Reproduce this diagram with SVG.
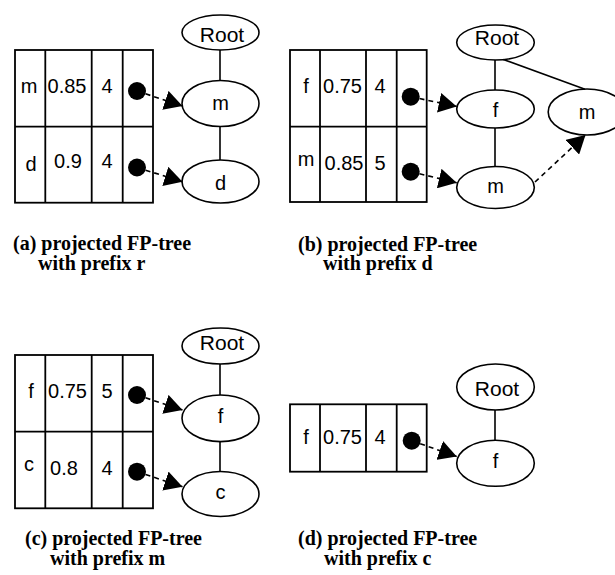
<svg xmlns="http://www.w3.org/2000/svg" width="615" height="575" viewBox="0 0 615 575">
<style>
.tb{fill:#fff;stroke:#000;stroke-width:1.8}
.cl{stroke:#000;stroke-width:1.8}
.t{font-family:"Liberation Sans",Arial,sans-serif;font-size:20px;fill:#000;text-anchor:middle}
.r{font-size:21px}
.nd{fill:#fff;stroke:#000;stroke-width:1.6}
.ed{stroke:#000;stroke-width:1.6;fill:none}
.da{stroke:#000;stroke-width:1.6;fill:none;stroke-dasharray:5 4;marker-end:url(#ah)}
.dot{fill:#000}
.cap{font-family:"Liberation Serif","Times New Roman",serif;font-weight:bold;font-size:20px;fill:#000}
</style>
<defs>
<marker id="ah" viewBox="0 0 18 20" refX="18" refY="10" markerWidth="18" markerHeight="20" markerUnits="userSpaceOnUse" orient="auto">
<path d="M0,0 L18,10 L0,20 z" fill="#000"/>
</marker>
</defs>

<!-- Panel (a) -->
<g id="table-a">
<rect class="tb" x="15" y="50" width="138" height="152.7"/>
<line class="cl" x1="15" y1="126.7" x2="153" y2="126.7"/>
<line class="cl" x1="45.3" y1="50" x2="45.3" y2="202.7"/>
<line class="cl" x1="91.7" y1="50" x2="91.7" y2="202.7"/>
<line class="cl" x1="122.7" y1="50" x2="122.7" y2="202.7"/>
<text class="t" x="29" y="93">m</text><text class="t" x="67" y="93">0.85</text><text class="t" x="107" y="93">4</text>
<text class="t" x="31" y="171">d</text><text class="t" x="68" y="168">0.9</text><text class="t" x="107" y="168">4</text>
<circle class="dot" cx="137" cy="91" r="9"/>
<circle class="dot" cx="137" cy="167.5" r="9"/>
</g>
<g id="a-root"><ellipse class="nd" cx="220.5" cy="32.5" rx="38.5" ry="17.5"/><text class="t r" x="222" y="41.5">Root</text></g>
<g id="a-m"><ellipse class="nd" cx="220.5" cy="103.5" rx="38.5" ry="23"/><text class="t" x="220.5" y="110">m</text></g>
<g id="a-d"><ellipse class="nd" cx="220.5" cy="181.5" rx="38.5" ry="21.5"/><text class="t" x="220.5" y="190">d</text></g>
<text class="cap" x="13" y="250">(a) projected FP-tree</text>
<text class="cap" x="38" y="270">with prefix r</text>

<!-- Panel (b) -->
<g id="table-b">
<rect class="tb" x="290" y="50" width="136.7" height="152"/>
<line class="cl" x1="290" y1="126.7" x2="426.7" y2="126.7"/>
<line class="cl" x1="320" y1="50" x2="320" y2="202"/>
<line class="cl" x1="366" y1="50" x2="366" y2="202"/>
<line class="cl" x1="396.7" y1="50" x2="396.7" y2="202"/>
<text class="t" x="306" y="93">f</text><text class="t" x="342.5" y="93">0.75</text><text class="t" x="380" y="93">4</text>
<text class="t" x="306" y="166">m</text><text class="t" x="344" y="170">0.85</text><text class="t" x="380" y="170">5</text>
<circle class="dot" cx="410.7" cy="96.7" r="9"/>
<circle class="dot" cx="410.7" cy="171.7" r="9"/>
</g>
<g id="b-root"><ellipse class="nd" cx="495.5" cy="42.5" rx="38.8" ry="17.5"/><text class="t r" x="497" y="45">Root</text></g>
<g id="b-f"><ellipse class="nd" cx="495.5" cy="109" rx="38.8" ry="19"/><text class="t" x="495.5" y="117">f</text></g>
<g id="b-m"><ellipse class="nd" cx="495.5" cy="187.5" rx="38.8" ry="21"/><text class="t" x="495.5" y="193">m</text></g>
<g id="b-m2"><ellipse class="nd" cx="587" cy="112" rx="38.8" ry="23"/><text class="t" x="587" y="118.5">m</text></g>
<text class="cap" x="298" y="251">(b) projected FP-tree</text>
<text class="cap" x="323" y="270">with prefix d</text>

<!-- Panel (c) -->
<g id="table-c">
<rect class="tb" x="15" y="355" width="138" height="153.3"/>
<line class="cl" x1="15" y1="431.7" x2="153" y2="431.7"/>
<line class="cl" x1="45.3" y1="355" x2="45.3" y2="508.3"/>
<line class="cl" x1="91.7" y1="355" x2="91.7" y2="508.3"/>
<line class="cl" x1="122.7" y1="355" x2="122.7" y2="508.3"/>
<text class="t" x="31" y="398">f</text><text class="t" x="67.5" y="398">0.75</text><text class="t" x="107" y="398">5</text>
<text class="t" x="29" y="471">c</text><text class="t" x="64" y="475">0.8</text><text class="t" x="107" y="475">4</text>
<circle class="dot" cx="137" cy="395" r="9"/>
<circle class="dot" cx="137" cy="471.7" r="9"/>
</g>
<g id="c-root"><ellipse class="nd" cx="220.5" cy="346" rx="38.5" ry="18"/><text class="t r" x="222" y="350">Root</text></g>
<g id="c-f"><ellipse class="nd" cx="220.5" cy="418.3" rx="38.5" ry="23.3"/><text class="t" x="220.5" y="423.3">f</text></g>
<g id="c-c"><ellipse class="nd" cx="220.5" cy="494" rx="38.5" ry="22.5"/><text class="t" x="220.5" y="499.3">c</text></g>
<text class="cap" x="25" y="545">(c) projected FP-tree</text>
<text class="cap" x="50" y="565">with prefix m</text>

<!-- Panel (d) -->
<g id="table-d">
<rect class="tb" x="290" y="404.3" width="136.7" height="67.4"/>
<line class="cl" x1="320" y1="404.3" x2="320" y2="471.7"/>
<line class="cl" x1="366" y1="404.3" x2="366" y2="471.7"/>
<line class="cl" x1="396.7" y1="404.3" x2="396.7" y2="471.7"/>
<text class="t" x="306" y="444">f</text><text class="t" x="342.5" y="444">0.75</text><text class="t" x="380" y="444">4</text>
<circle class="dot" cx="411.7" cy="440.7" r="9"/>
</g>
<g id="d-root"><ellipse class="nd" cx="495.5" cy="387" rx="38.8" ry="23"/><text class="t r" x="497" y="396">Root</text></g>
<g id="d-f"><ellipse class="nd" cx="495.5" cy="463.3" rx="38.8" ry="23"/><text class="t" x="495.5" y="468.3">f</text></g>
<text class="cap" x="298" y="545">(d) projected FP-tree</text>
<text class="cap" x="324" y="565">with prefix c</text>

<g id="connectors">
<line class="ed" x1="220" y1="50" x2="220" y2="80.5"/>
<line class="ed" x1="220" y1="126.5" x2="220" y2="160"/>
<path class="da" d="M137,91 L182.5,106"/>
<path class="da" d="M137,167.5 L182.5,181.7"/>

<line class="ed" x1="495" y1="60" x2="495" y2="90"/>
<line class="ed" x1="495" y1="128" x2="495" y2="166.5"/>
<line class="ed" x1="503.3" y1="59.5" x2="585" y2="89.3"/>
<path class="da" d="M410.7,96.7 L456.7,106.5"/>
<path class="da" d="M410.7,171.7 L456.7,182.7"/>
<path class="da" d="M535,182 L585.5,135"/>

<line class="ed" x1="220" y1="364" x2="220" y2="395"/>
<line class="ed" x1="220" y1="441.6" x2="220" y2="471.5"/>
<path class="da" d="M137,395 L182.5,410"/>
<path class="da" d="M137,471.7 L182.5,486.7"/>

<line class="ed" x1="495" y1="410" x2="495" y2="440.3"/>
<path class="da" d="M411.7,440.7 L456.7,456.5"/>
</g>
</svg>
